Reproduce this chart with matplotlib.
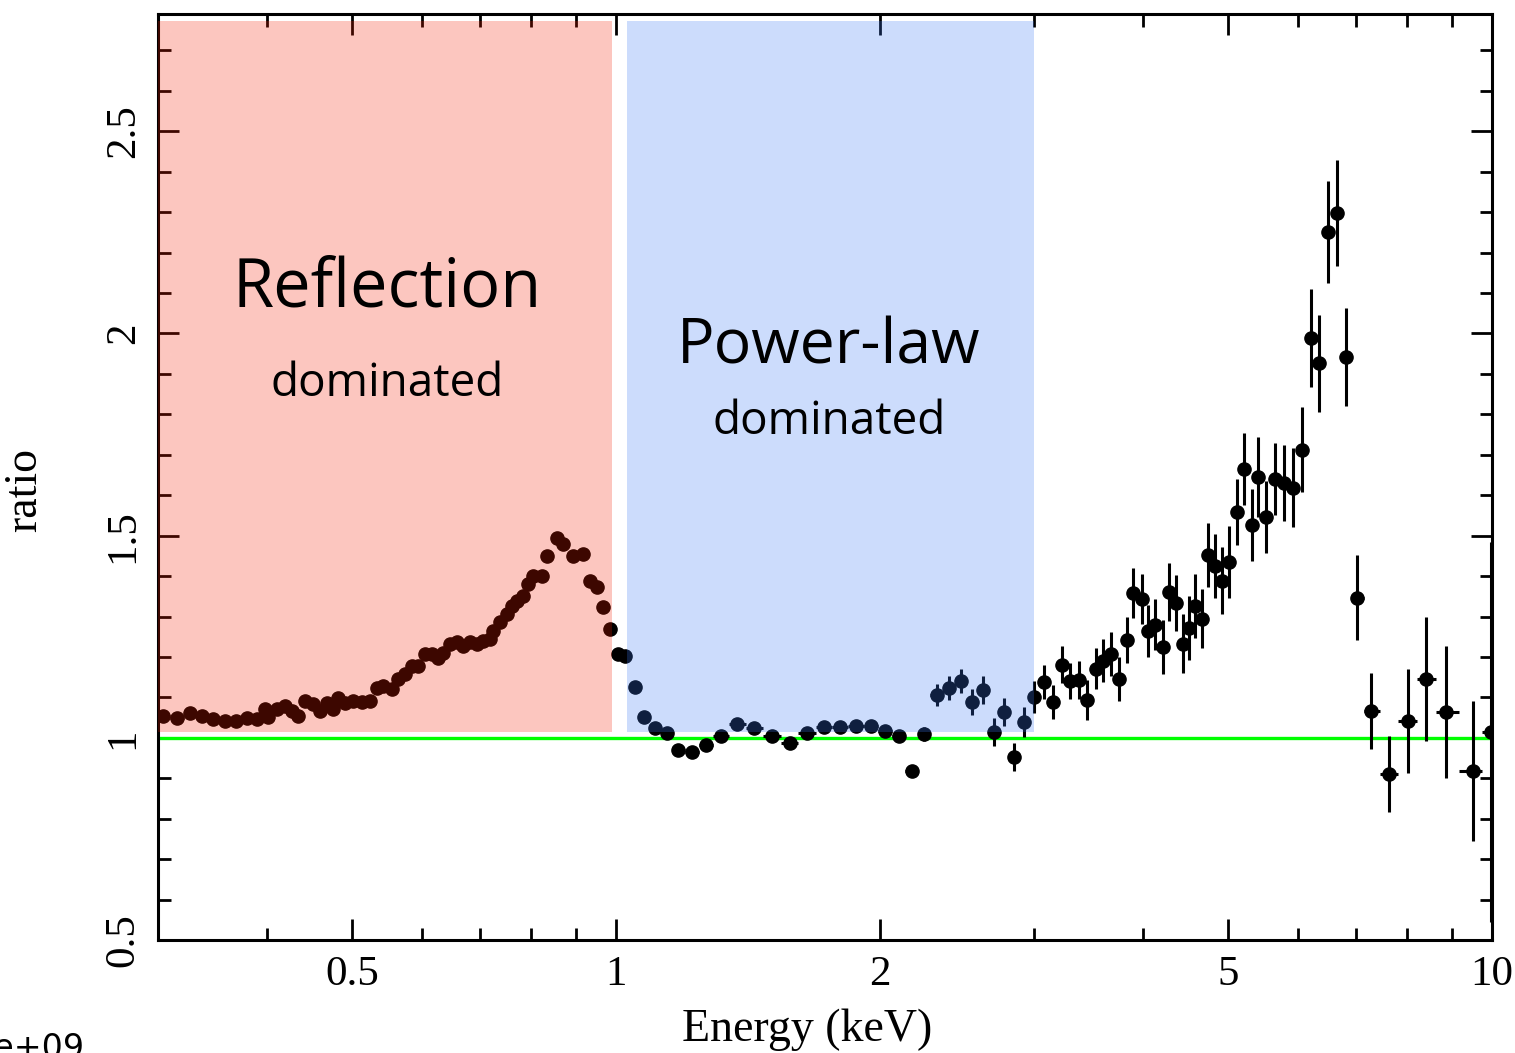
# Import Required Libraries
import numpy as np
import matplotlib
matplotlib.use("Agg")
import matplotlib.pyplot as plt
from matplotlib.patches import Rectangle
from matplotlib.ticker import FixedLocator, NullFormatter


# Data - soft band (reflection dominated, small errors)
energy_soft = [0.3041, 0.3154, 0.3263, 0.3368, 0.3467, 0.3578, 0.3683, 0.3792,
               0.3893, 0.3975, 0.4006, 0.4102, 0.4189, 0.4267, 0.4335, 0.4416,
               0.4510, 0.4594, 0.4679, 0.4753, 0.4816, 0.4906, 0.5010, 0.5129,
               0.5238, 0.5335, 0.5420, 0.5550, 0.5638, 0.5742, 0.5849, 0.5943,
               0.6053, 0.6166, 0.6264, 0.6347, 0.6465, 0.6585, 0.6689, 0.6814,
               0.6940, 0.7051, 0.7182, 0.7239, 0.7373, 0.7510, 0.7609, 0.7708,
               0.7830, 0.7934, 0.8039, 0.8233, 0.8341, 0.8562, 0.8700, 0.8932,
               0.9169, 0.9339, 0.9512, 0.9665, 0.9844, 1.0053, 1.0240]
ratio_soft = [1.054, 1.050, 1.062, 1.054, 1.047, 1.042, 1.042, 1.050,
              1.047, 1.072, 1.052, 1.072, 1.079, 1.067, 1.054, 1.092,
              1.084, 1.067, 1.087, 1.072, 1.099, 1.087, 1.092, 1.089,
              1.092, 1.124, 1.129, 1.121, 1.146, 1.158, 1.178, 1.178,
              1.208, 1.208, 1.198, 1.210, 1.233, 1.238, 1.228, 1.238,
              1.233, 1.240, 1.245, 1.265, 1.287, 1.307, 1.327, 1.339,
              1.351, 1.381, 1.401, 1.401, 1.450, 1.493, 1.480, 1.450,
              1.455, 1.389, 1.374, 1.324, 1.270, 1.208, 1.203]

# Data - 1-2.3 keV (power-law dominated, small errors)
energy_mid = [1.0512, 1.0764, 1.1079, 1.1435, 1.1771, 1.2212, 1.2666, 1.3178,
              1.3747, 1.4373, 1.5070, 1.5798, 1.6520, 1.7276, 1.8019, 1.8793,
              1.9549, 2.0280, 2.1040, 2.1771, 2.2467]
ratio_mid = [1.126, 1.052, 1.025, 1.012, 0.970, 0.965, 0.983, 1.005,
             1.035, 1.025, 1.005, 0.988, 1.012, 1.027, 1.027, 1.030,
             1.030, 1.017, 1.005, 0.918, 1.010]
err_mid = [0.008, 0.008, 0.008, 0.008, 0.008, 0.008, 0.008, 0.008,
           0.008, 0.008, 0.008, 0.008, 0.010, 0.010, 0.010, 0.010,
           0.010, 0.012, 0.012, 0.015, 0.018]

# Data - hard band (iron line region, larger errors)
energy_hard = [2.3250, 2.3993, 2.4763, 2.5495, 2.6240, 2.7009, 2.7727, 2.8465,
               2.9225, 3.0001, 3.0800, 3.1537, 3.2291, 3.2981, 3.3768, 3.4490,
               3.5309, 3.5966, 3.6734, 3.7514, 3.8309, 3.8921, 3.9851, 4.0484,
               4.1237, 4.2111, 4.2784, 4.3580, 4.4390, 4.5093, 4.5814, 4.6663,
               4.7409, 4.8293, 4.9190, 5.0105, 5.1167, 5.2119, 5.3224, 5.4074,
               5.5219, 5.6545, 5.7901, 5.9282, 6.0701, 6.2152, 6.3473, 6.4994,
               6.6553, 6.8120, 7.0123, 7.2756, 7.6281, 8.0196, 8.4077, 8.8620,
               9.5125, 9.9738]
ratio_hard = [1.106, 1.124, 1.141, 1.089, 1.119, 1.015, 1.064, 0.953,
              1.040, 1.101, 1.139, 1.089, 1.181, 1.141, 1.144, 1.094,
              1.171, 1.191, 1.208, 1.146, 1.243, 1.359, 1.344, 1.265,
              1.280, 1.225, 1.361, 1.334, 1.233, 1.272, 1.327, 1.295,
              1.453, 1.426, 1.389, 1.436, 1.559, 1.666, 1.527, 1.644,
              1.547, 1.639, 1.631, 1.619, 1.713, 1.988, 1.926, 2.250,
              2.297, 1.941, 1.347, 1.067, 0.911, 1.042, 1.146, 1.064,
              0.918, 1.015]
err_hard = [0.027, 0.030, 0.030, 0.032, 0.035, 0.035, 0.035, 0.035,
            0.037, 0.040, 0.042, 0.042, 0.045, 0.045, 0.047, 0.050,
            0.050, 0.054, 0.054, 0.054, 0.057, 0.062, 0.062, 0.064,
            0.064, 0.067, 0.072, 0.069, 0.072, 0.079, 0.079, 0.074,
            0.079, 0.079, 0.082, 0.089, 0.082, 0.089, 0.089, 0.099,
            0.089, 0.089, 0.094, 0.097, 0.104, 0.121, 0.119, 0.126,
            0.131, 0.121, 0.104, 0.094, 0.094, 0.129, 0.153, 0.163,
            0.173, 0.470]

# Shaded bands (keV)
band_reflection = (0.3, 0.99)
band_powerlaw = (1.03, 3.0)
band_ratio = (1.015, 2.772)

x_ticks = [0.5, 1, 2, 5, 10]
x_labels = ["0.5", "1", "2", "5", "10"]


# Combine data
energy = np.array(energy_soft + energy_mid + energy_hard)
ratio = np.array(ratio_soft + ratio_mid + ratio_hard)
yerr = np.array([0.006] * len(energy_soft) + err_mid + err_hard)

# horizontal bars: half the bin width (geometric midpoints between channels)
log_e = np.log10(energy)
edges = np.concatenate([[log_e[0] - (log_e[1] - log_e[0]) / 2],
                        (log_e[1:] + log_e[:-1]) / 2,
                        [log_e[-1] + (log_e[-1] - log_e[-2]) / 2]])
xerr = np.vstack([energy - 10 ** edges[:-1], 10 ** edges[1:] - energy])


# Figure
plt.rcParams["font.family"] = ["Liberation Serif", "DejaVu Serif"]
fig = plt.figure(figsize=(15.15, 10.53), dpi=100)
ax = fig.add_axes([0.1043, 0.1073, 0.8805, 0.8794])

ax.axhline(1.0, color="#00ff00", lw=2.4, zorder=2)

ax.errorbar(energy, ratio, xerr=xerr, yerr=yerr, fmt="o", color="black",
            ms=9.5, elinewidth=2.2, capsize=0, zorder=3)

# Shaded regions drawn on top (tinting the points)
ax.add_patch(Rectangle((band_reflection[0], band_ratio[0]),
                       band_reflection[1] - band_reflection[0],
                       band_ratio[1] - band_ratio[0],
                       facecolor=(0.97, 0.12, 0.0), alpha=0.25,
                       edgecolor="none", zorder=4))
ax.add_patch(Rectangle((band_powerlaw[0], band_ratio[0]),
                       band_powerlaw[1] - band_powerlaw[0],
                       band_ratio[1] - band_ratio[0],
                       facecolor=(0.24, 0.48, 0.96), alpha=0.26,
                       edgecolor="none", zorder=4))

# Annotations
label_font = ["Open Sans", "DejaVu Sans"]
ax.text(0.548, 2.11, "Reflection", ha="center", va="center", fontsize=48,
        family=label_font, zorder=5)
ax.text(0.548, 1.874, "dominated", ha="center", va="center", fontsize=33,
        family=label_font, zorder=5)
ax.text(1.75, 1.965, "Power-law", ha="center", va="center", fontsize=45,
        family=label_font, zorder=5)
ax.text(1.75, 1.78, "dominated", ha="center", va="center", fontsize=33,
        family=label_font, zorder=5)

# Axes
ax.set_xscale("log")
ax.set_xlim(0.3, 10)
ax.set_ylim(0.5, 2.79)

ax.xaxis.set_major_locator(FixedLocator(x_ticks))
ax.set_xticklabels(x_labels)
minor_x = [0.3, 0.4, 0.6, 0.7, 0.8, 0.9, 3, 4, 6, 7, 8, 9]
ax.xaxis.set_minor_locator(FixedLocator(minor_x))
ax.xaxis.set_minor_formatter(NullFormatter())

ax.set_yticks([0.5, 1, 1.5, 2, 2.5])
ax.set_yticklabels(["0.5", "1", "1.5", "2", "2.5"], rotation=90, va="center")
ax.yaxis.set_minor_locator(FixedLocator(np.arange(0.5, 2.8, 0.1)))

ax.tick_params(which="both", direction="in", top=True, right=True,
               width=2, labelsize=31, pad=11)
ax.tick_params(which="major", length=15)
ax.tick_params(which="minor", length=9)
for spine in ax.spines.values():
    spine.set_linewidth(2.2)

ax.set_xlabel("Energy (keV)", fontsize=33)
ax.set_ylabel("ratio", fontsize=33)
ax.xaxis.set_label_coords(0.4865, -0.074)
ax.yaxis.set_label_coords(-0.084, 0.486)

fig.text(85 / 1515, 1 - 1032 / 1053, "1e+09", ha="right", va="top",
         fontsize=24, family="DejaVu Sans")

fig.savefig("out.png", dpi=100)
